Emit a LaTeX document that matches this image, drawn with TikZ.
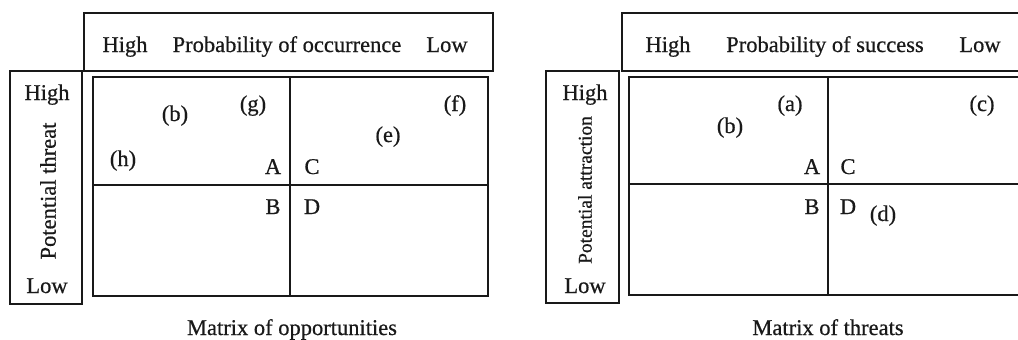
\documentclass[tikz,border=0pt]{standalone}
\usepackage{fontspec}
\setmainfont{Liberation Serif}
\newfontfamily\heavyserif{Liberation Serif}[UprightFeatures={FakeBold=0.6}]
\begin{document}
\begin{tikzpicture}[x=1pt,y=-1pt,
  frame/.style={draw=black!90,line width=1.5pt},
  lbl/.style={inner sep=0pt,anchor=base,font=\heavyserif\fontsize{22.5}{24}\selectfont,text=black!90},
  vlbl/.style={lbl,anchor=center,rotate=90},
  caption/.style={lbl}]
\useasboundingbox (0,0) rectangle (1018,340);

% ---------- matrix of opportunities ----------
\draw[frame] (84,13) rectangle (493,71);
\draw[frame] (10,71) rectangle (82,304);
\draw[frame] (93,77) rectangle (488,296);
\draw[frame] (290,77) -- (290,296);
\draw[frame] (93,185) -- (488,185);

\node[lbl] (oHi) at (125,52) {High};
\node[lbl] (oProb) at (287,52) {Probability of occurrence};
\node[lbl] (oLo) at (447,52) {Low};
\node[lbl] (oVHi) at (47,100) {High};
\node[lbl] (oVLo) at (47,293) {Low};
\node[vlbl] (oThreat) at (48,191) {Potential threat};

\node[lbl] (ob) at (175,121) {(b)};
\node[lbl] (og) at (253,111) {(g)};
\node[lbl] (oh) at (123,166) {(h)};
\node[lbl] (of) at (455,111) {(f)};
\node[lbl] (oe) at (388,142) {(e)};
\node[lbl] (oA) at (273,174) {A};
\node[lbl] (oC) at (312,174) {C};
\node[lbl] (oB) at (273,214) {B};
\node[lbl] (oD) at (312,214) {D};
\node[caption] (oCap) at (292,335) {Matrix of opportunities};

% ---------- matrix of threats ----------
\draw[frame] (1030,13) -- (622,13) -- (622,71) -- (1030,71);
\draw[frame] (546,71) rectangle (619,303);
\draw[frame] (1030,77) -- (629,77) -- (629,295) -- (1030,295);
\draw[frame] (828,77) -- (828,295);
\draw[frame] (629,184) -- (1030,184);

\node[lbl] (tHi) at (668,52) {High};
\node[lbl] (tProb) at (825,52) {Probability of success};
\node[lbl] (tLo) at (980,52) {Low};
\node[lbl] (tVHi) at (585,100) {High};
\node[lbl] (tVLo) at (585,293) {Low};
\node[vlbl,font=\heavyserif\fontsize{19.5}{21}\selectfont] (tAttr) at (585,190) {Potential attraction};

\node[lbl] (ta) at (790,111) {(a)};
\node[lbl] (tb) at (730,133) {(b)};
\node[lbl] (tc) at (982,111) {(c)};
\node[lbl] (td) at (883,221) {(d)};
\node[lbl] (tA) at (812,174) {A};
\node[lbl] (tC) at (848,174) {C};
\node[lbl] (tB) at (812,214) {B};
\node[lbl] (tD) at (848,214) {D};
\node[caption] (tCap) at (828,335) {Matrix of threats};
\end{tikzpicture}
\end{document}
